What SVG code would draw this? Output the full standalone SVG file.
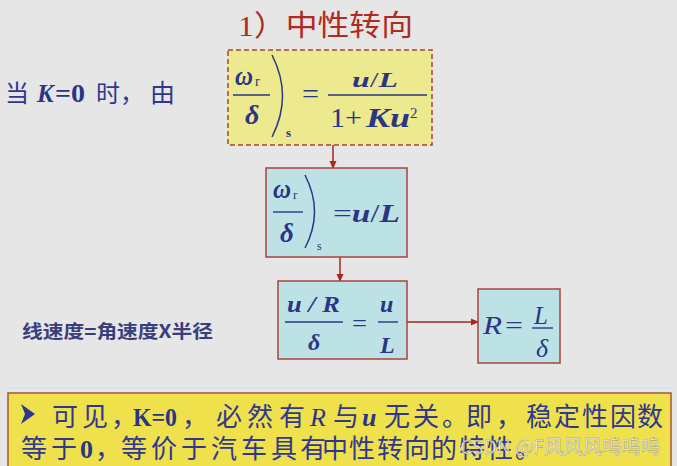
<svg xmlns="http://www.w3.org/2000/svg" width="677" height="466" viewBox="0 0 677 466">
<defs>
<marker id="arr" markerWidth="8" markerHeight="8" refX="7" refY="4" orient="auto" markerUnits="userSpaceOnUse">
<path d="M0,0.5 L8,4 L0,7.5 Z" fill="#a8261e"/>
</marker>
<style>
.bg{fill:#e6e6e6}
.m{font-family:"Liberation Serif",serif;font-style:italic;font-weight:bold;fill:#2b3585}
.mi{font-family:"Liberation Serif",serif;font-style:italic;fill:#2b3585}
.mu{font-family:"Liberation Serif",serif;fill:#2b3585}
.cn{font-family:"Noto Sans CJK SC",sans-serif;fill:#30378f}
.box{fill:#bce2e6;stroke:#a8423c;stroke-width:1.5}
.bar{stroke:#2b3585;stroke-width:1.4}
.paren{fill:none;stroke:#2b3585;stroke-width:1.5}
.con{stroke:#a8261e;stroke-width:1.5;fill:none}
</style>
</defs>
<rect class="bg" x="0" y="0" width="677" height="466"/>

<g id="title">
<text x="238" y="36" font-family="'Liberation Serif','Noto Sans CJK SC',serif" font-size="29" fill="#b02a20" textLength="175" lengthAdjust="spacingAndGlyphs">1）中性转向</text>
</g>

<g id="intro">
<text class="cn" x="5" y="102" font-size="24">当</text>
<text class="mi" x="37" y="102" font-size="25" font-weight="bold">K</text>
<text class="mu" x="55" y="102" font-size="25" font-weight="bold" textLength="30" lengthAdjust="spacingAndGlyphs">=0</text>
<text class="cn" x="96" y="102" font-size="24">时，</text>
<text class="cn" x="150" y="102" font-size="25">由</text>
</g>

<g id="connectors">
<line class="con" x1="333" y1="145" x2="333" y2="168" marker-end="url(#arr)"/>
<line class="con" x1="340" y1="257" x2="340" y2="281" marker-end="url(#arr)"/>
<line class="con" x1="407" y1="322" x2="478" y2="322" marker-end="url(#arr)"/>
</g>

<g id="box1">
<rect x="228" y="50" width="204" height="95" fill="#ede98e" stroke="#a8423c" stroke-width="1.5" stroke-dasharray="5,3"/>
<text class="m" x="235" y="85" font-size="28" textLength="18" lengthAdjust="spacingAndGlyphs">ω</text>
<text class="mu" x="255" y="86" font-size="14">r</text>
<line class="bar" x1="233" y1="95" x2="270" y2="95"/>
<text class="m" x="245" y="124" font-size="28">δ</text>
<path class="paren" d="M272,55 Q293,96 272,137"/>
<text class="mu" x="286" y="137" font-size="13" font-weight="bold">s</text>
<text class="mu" x="302" y="103" font-size="28" textLength="17" lengthAdjust="spacingAndGlyphs">=</text>
<text class="m" x="352" y="87" font-size="22" textLength="46" lengthAdjust="spacingAndGlyphs">u<tspan font-weight="normal" font-style="normal">/</tspan>L</text>
<line class="bar" x1="328" y1="95" x2="427" y2="95"/>
<text class="mu" x="330" y="127" font-size="28" textLength="32" lengthAdjust="spacingAndGlyphs">1+</text>
<text class="m" x="366" y="127" font-size="28" textLength="44" lengthAdjust="spacingAndGlyphs">Ku</text>
<text class="mu" x="410" y="118" font-size="15">2</text>
</g>

<g id="box2">
<rect class="box" x="266" y="168" width="141" height="89"/>
<text class="m" x="273" y="198" font-size="28" textLength="18" lengthAdjust="spacingAndGlyphs">ω</text>
<text class="mu" x="293" y="199" font-size="13">r</text>
<line class="bar" x1="273" y1="212" x2="303" y2="212"/>
<text class="m" x="280" y="242" font-size="27">δ</text>
<path class="paren" d="M305,175 Q324,212 305,248"/>
<text class="mu" x="317" y="250" font-size="12">s</text>
<text class="m" x="333" y="222" font-size="26" textLength="67" lengthAdjust="spacingAndGlyphs"><tspan font-style="normal" font-weight="normal">=</tspan>u<tspan font-weight="normal" font-style="normal">/</tspan>L</text>
</g>

<g id="box3">
<rect class="box" x="278" y="281" width="129" height="78"/>
<text class="m" x="287" y="312" font-size="24" textLength="53" lengthAdjust="spacingAndGlyphs">u / R</text>
<line class="bar" x1="285" y1="322" x2="343" y2="322"/>
<text class="m" x="308" y="350" font-size="24">δ</text>
<text class="mu" x="352" y="331" font-size="24" fill="#5c6aa6" textLength="15" lengthAdjust="spacingAndGlyphs">=</text>
<text class="m" x="380" y="312" font-size="24">u</text>
<line class="bar" x1="378" y1="322" x2="398" y2="322"/>
<text class="m" x="380" y="353" font-size="24">L</text>
</g>

<g id="box4">
<rect class="box" x="478" y="289" width="82" height="74"/>
<text class="mi" x="483" y="334" font-size="25" textLength="19" lengthAdjust="spacingAndGlyphs">R</text>
<text class="mu" x="505" y="334" font-size="25" textLength="18" lengthAdjust="spacingAndGlyphs">=</text>
<text class="mi" x="534" y="324" font-size="25">L</text>
<line class="bar" x1="532" y1="328" x2="553" y2="328"/>
<text class="mi" x="536" y="357" font-size="26">δ</text>
</g>

<g id="note">
<text x="22" y="338" font-size="18" font-family="'Noto Sans CJK SC',sans-serif" font-weight="bold" fill="#37407c" textLength="191" lengthAdjust="spacingAndGlyphs">线速度=角速度X半径</text>
</g>

<g id="summary">
<line x1="8" y1="388" x2="671" y2="388" stroke="#d4e4ec" stroke-width="2"/>
<rect x="8" y="393" width="663" height="78" fill="#efe14c" stroke="#a8563a" stroke-width="1.5"/>
<path d="M21,404 L35,414 L21,424 L25,414 Z" fill="#2f3690"/>
<text class="cn" y="426" font-size="26" x="52 82 111">可见，</text>
<text class="mu" x="133" y="426" font-size="26" font-weight="bold" fill="#30378f" textLength="44" lengthAdjust="spacingAndGlyphs">K=0</text>
<text class="cn" y="426" font-size="26" x="182 216 247 279">，必然有</text>
<text class="mi" x="310" y="426" font-size="26" fill="#30378f">R</text>
<text class="cn" x="333" y="426" font-size="26">与</text>
<text class="m" x="362" y="426" font-size="26" fill="#30378f">u</text>
<text class="cn" y="426" font-size="26" x="384 413 442 466 496 526 554 582 610 637">无关。即，稳定性因数</text>
<text class="cn" y="458" font-size="26" x="21 51">等于</text>
<text class="mu" x="80" y="458" font-size="26" font-weight="bold" fill="#30378f">0</text>
<text class="cn" y="458" font-size="26" x="95 121 151 181 211 241 271 300 322 349 377 404 431 459 487 515">，等价于汽车具有中性转向的特性。</text>
<text x="460" y="454" font-size="19" font-family="'Noto Sans CJK SC',sans-serif" fill="#ffffff" fill-opacity="0.8" stroke="#8a8a8a" stroke-width="0.4" textLength="200" lengthAdjust="spacingAndGlyphs">CSDN @F风风风呜呜呜</text>
</g>
</svg>
